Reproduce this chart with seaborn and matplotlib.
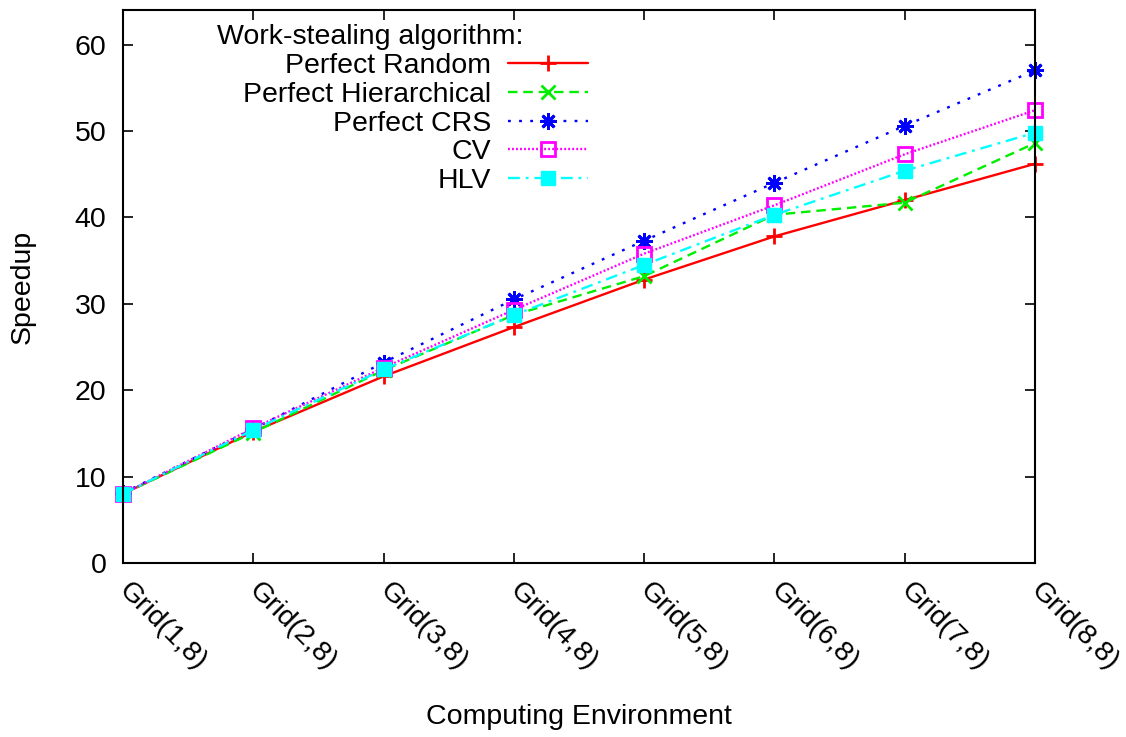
import matplotlib
matplotlib.use("Agg")
import matplotlib.pyplot as plt
import matplotlib.transforms as mtransforms
import seaborn as sns
import pandas as pd

categories = ["Grid(1,8)", "Grid(2,8)", "Grid(3,8)", "Grid(4,8)",
              "Grid(5,8)", "Grid(6,8)", "Grid(7,8)", "Grid(8,8)"]
perfect_random = [8.0, 15.2, 21.6, 27.3, 32.8, 37.8, 42.0, 46.2]
perfect_hier = [8.0, 15.1, 22.3, 28.7, 33.2, 40.3, 41.7, 48.6]
perfect_crs = [8.1, 15.5, 23.2, 30.5, 37.3, 44.0, 50.6, 57.0]
cv = [8.0, 15.6, 22.6, 29.3, 35.8, 41.4, 47.3, 52.4]
hlv = [8.0, 15.4, 22.4, 28.7, 34.5, 40.3, 45.4, 49.8]
series_names = ["Perfect Random", "Perfect Hierarchical", "Perfect CRS", "CV", "HLV"]
yticks = [0, 10, 20, 30, 40, 50, 60]

sns.set_theme(style="white")
plt.rcParams['font.family'] = ['Liberation Sans', 'DejaVu Sans']
for k in ["text.color", "axes.labelcolor", "xtick.color", "ytick.color", "axes.edgecolor"]:
    plt.rcParams[k] = "black"
FS = 20.5

fig = plt.figure(figsize=(11.26, 7.37), dpi=100)
ax = fig.add_axes([123/1126, 1-563/737, 912/1126, 553/737])

styles = [
    dict(color="#ff0000", marker="+", linestyle="-", ms=12, mew=2),
    dict(color="#00ee00", marker="x", dashes=(4, 2.5), ms=10, mew=2),
    dict(color="#0000ff", marker=(8, 2, 0), dashes=(1.2, 3.5), ms=12, mew=2),
    dict(color="#ff00ff", marker="s", dashes=(0.8, 0.9), ms=10, mew=2, mfc="none"),
    dict(color="#00ffff", marker="s", dashes=(5, 2.5, 1.2, 2.5), ms=10, mew=1, mfc="#00ffff"),
]
data = [perfect_random, perfect_hier, perfect_crs, cv, hlv]
x = list(range(len(categories)))
for name, vals, st in zip(series_names, data, styles):
    df = pd.DataFrame({"x": x, "y": vals})
    kw = dict(st)
    color = kw.pop("color")
    marker = kw.pop("marker")
    ms = kw.pop("ms"); mew = kw.pop("mew")
    mfc = kw.pop("mfc", color)
    line_kw = {}
    if "dashes" in kw:
        line_kw["dashes"] = kw.pop("dashes")
    else:
        line_kw["linestyle"] = kw.pop("linestyle")
    sns.lineplot(data=df, x="x", y="y", ax=ax, color=color, marker=marker,
                 markersize=ms, markeredgewidth=mew, markerfacecolor=mfc,
                 markeredgecolor=color, linewidth=1.7, label=name, clip_on=False,
                 **line_kw)

ax.set_xlim(0, 7)
ax.set_ylim(0, 64)
ax.set_yticks(yticks)
ax.set_xticks(x)
ax.set_xticklabels(categories, rotation=-45, ha="left", va="center",
                   rotation_mode="anchor", fontsize=FS)
offset = mtransforms.ScaledTranslation(7/100, 0, fig.dpi_scale_trans)
for lab in ax.get_xticklabels():
    lab.set_transform(lab.get_transform() + offset)
ax.tick_params(axis="both", direction="in", length=7, width=1.2,
               top=True, right=True, bottom=True, left=True, labelsize=FS,
               colors="black")
ax.tick_params(axis="x", pad=17)
ax.tick_params(axis="y", pad=12)
for sp in ax.spines.values():
    sp.set_visible(True)
    sp.set_color("black")
    sp.set_linewidth(1.5)

ax.set_xlabel("Computing Environment", fontsize=FS, color="black")
ax.set_ylabel("Speedup", fontsize=FS, color="black")
ax.xaxis.set_label_coords(0.5, -(717-563)/553)
ax.yaxis.set_label_coords(-(123-23)/912, 0.5)
ax.xaxis.label.set_va("center")
ax.yaxis.label.set_va("center")

leg = ax.legend(loc="upper right", bbox_to_anchor=((588-123)/912, (563-24)/553),
                frameon=False, markerfirst=False, fontsize=FS,
                title="Work-stealing algorithm:", title_fontsize=FS,
                alignment="left", borderpad=0, borderaxespad=0,
                handlelength=2.8, handletextpad=0.6, labelspacing=0.1)
leg.get_title().set_x(-26)
for t in leg.get_texts():
    t.set_color("black")
leg.get_title().set_color("black")

fig.savefig("out.png", dpi=100)
